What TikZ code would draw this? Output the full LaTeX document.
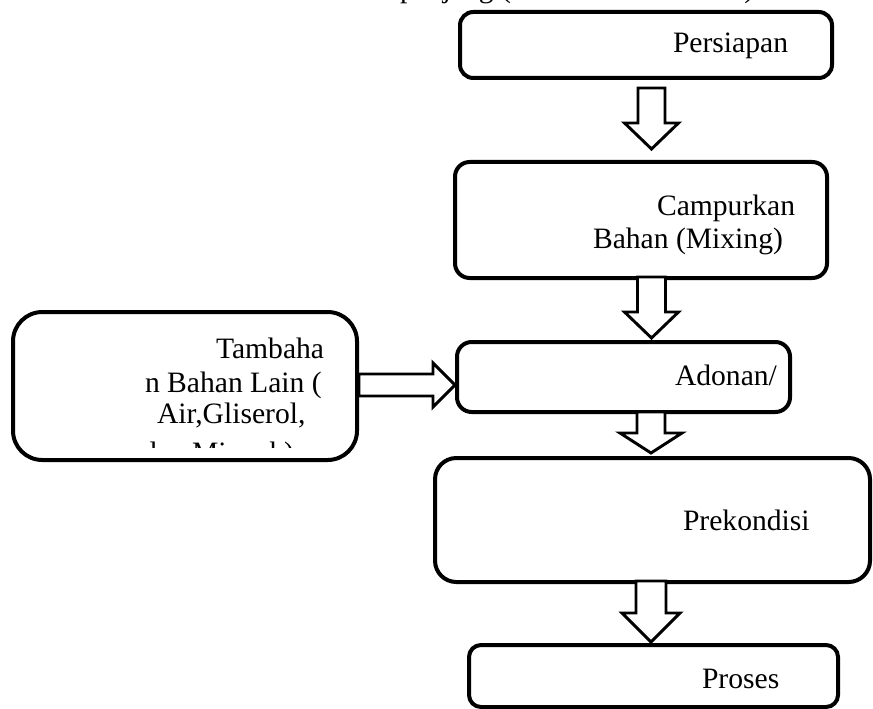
\documentclass[tikz,border=0pt]{standalone}
\usepackage{fontspec}
\setmainfont{Liberation Serif}
\usetikzlibrary{calc,fit}
\tikzset{
  boxst/.style={draw, line width=3pt, rounded corners=#1, inner sep=0pt, outer sep=0pt},
  lbl/.style={anchor=base west, inner sep=0pt, outer sep=0pt, font=\fontsize{22.2pt}{26pt}\selectfont},
  arrowline/.style={draw, line width=2.2pt, line join=miter, fill=white}
}
% vertical hollow block arrow: start, tip, shaft half, head half, head length (px)
\newcommand{\varrow}[5]{%
  \draw[arrowline] let \p1=(#1), \p2=(#2) in
    (\x1-#3*0.75pt,\y1) -- (\x1-#3*0.75pt,\y2+#5*0.75pt) -- (\x1-#4*0.75pt,\y2+#5*0.75pt)
    -- (\x1,\y2) -- (\x1+#4*0.75pt,\y2+#5*0.75pt) -- (\x1+#3*0.75pt,\y2+#5*0.75pt)
    -- (\x1+#3*0.75pt,\y1) -- cycle;}
% horizontal hollow block arrow (pointing right)
\newcommand{\harrow}[5]{%
  \draw[arrowline] let \p1=(#1), \p2=(#2) in
    (\x1,\y1+#3*0.75pt) -- (\x2-#5*0.75pt,\y1+#3*0.75pt) -- (\x2-#5*0.75pt,\y1+#4*0.75pt)
    -- (\x2,\y1) -- (\x2-#5*0.75pt,\y1-#4*0.75pt) -- (\x2-#5*0.75pt,\y1-#3*0.75pt)
    -- (\x1,\y1-#3*0.75pt) -- cycle;}
\begin{document}
\begin{tikzpicture}[x=0.75pt,y=-0.75pt]
\useasboundingbox (0,0) rectangle (873,709);
\clip (0,0) rectangle (873,709);

% clipped heading line at the very top
\node[lbl] (head) at (400,-2.5) {panjang (\hspace{175pt})};

% boxes
\node[boxst=10pt, fit={(460,12) (832,78)}] (b1) {};
\node[boxst=11pt, fit={(455,162) (827,278)}] (b2) {};
\node[boxst=11pt, fit={(457,342) (790,412)}] (b3) {};
\node[boxst=22pt, fit={(13,312) (357,460)}] (bl) {};
\node[boxst=16pt, fit={(435,458) (870,582)}] (b4) {};
\node[boxst=9pt, fit={(469,645) (838,707)}] (b5) {};

% labels
\node[lbl] (t1) at (673,53) {Persiapan};
\node[lbl] (t2a) at (657,215) {Campurkan};
\node[lbl] (t2b) at (593,248) {Bahan (Mixing)};
\node[lbl] (t3) at (675,385) {Adonan/};
\node[lbl] (tla) at (216,358) {Tambaha};
\node[lbl] (tlb) at (145,392) {n Bahan Lain (};
\node[lbl] (tlc) at (157,423) {Air,Gliserol,};
\begin{scope}
  \clip (0,300) rectangle (400,447);
  \node[lbl] (tld) at (142,462) {dan Minyak)};
\end{scope}
\node[lbl] (t4) at (683,530) {Prekondisi};
\node[lbl] (t5) at (702,688) {Proses};

% arrow anchor points
\coordinate (a1s) at (651.5,88);  \coordinate (a1t) at (651.5,149);
\coordinate (a2s) at (651.5,277); \coordinate (a2t) at (651.5,338);
\coordinate (a3s) at (651,412);   \coordinate (a3t) at (651,453);
\coordinate (a4s) at (651,581);   \coordinate (a4t) at (651,642);
\coordinate (ahs) at (359,385);   \coordinate (aht) at (455,385);

\varrow{a1s}{a1t}{13.5}{27}{26}
\varrow{a2s}{a2t}{14}{27}{26}
\varrow{a3s}{a3t}{14}{31}{20}
\varrow{a4s}{a4t}{15}{29}{29}
\harrow{ahs}{aht}{11}{22}{22}
\end{tikzpicture}
\end{document}
